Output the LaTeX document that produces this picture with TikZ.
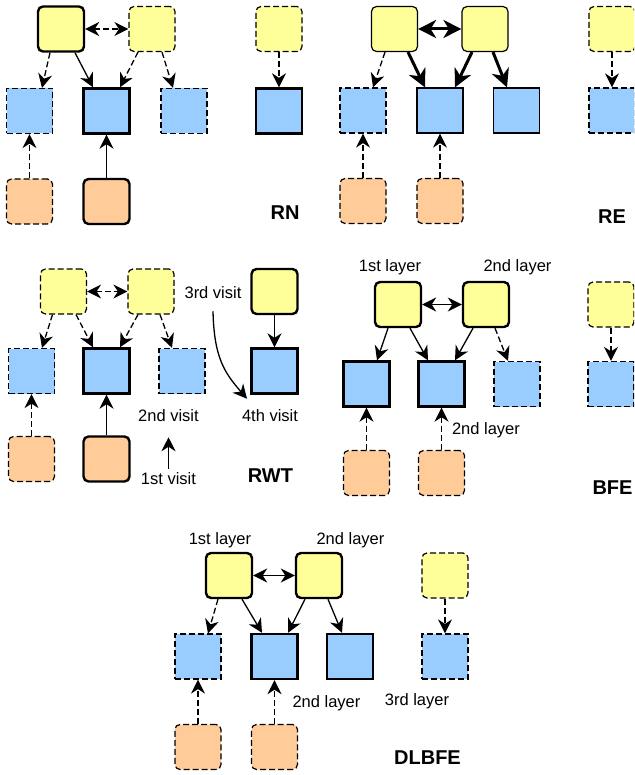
\documentclass[tikz,border=0pt]{standalone}
\usepackage{fontspec}
\setmainfont{Liberation Sans}
\usetikzlibrary{arrows.meta}

\definecolor{cyel}{HTML}{FFFF99}
\definecolor{cblu}{HTML}{99CCFF}
\definecolor{corg}{HTML}{FFCC99}

\tikzset{
  box/.style={minimum width=46pt, minimum height=45pt, inner sep=0pt, draw=black},
  yel/.style={box, rounded corners=5pt, fill=cyel},
  org/.style={box, rounded corners=5pt, fill=corg},
  blu/.style={box, fill=cblu},
  hi/.style={line width=2.4pt},
  mid/.style={line width=1.2pt},
  lo/.style={line width=1.2pt, dash pattern=on 6pt off 3pt},
  arr/.style={-{Stealth[length=14pt, width=14pt, inset=4.5pt]}, line width=1.3pt},
  darr/.style={arr, dash pattern=on 6pt off 3pt},
  dbl/.style={{Stealth[length=14pt, width=14pt, inset=4.5pt]}-{Stealth[length=14pt, width=14pt, inset=4.5pt]}, line width=1.3pt},
  tarr/.style={-{Stealth[length=18pt, width=18pt, inset=5.5pt]}, line width=3pt},
  tdbl/.style={{Stealth[length=18pt, width=18pt, inset=5.5pt]}-{Stealth[length=18pt, width=18pt, inset=5.5pt]}, line width=3pt},
  lbl/.style={font=\fontsize{16.5}{18}\selectfont, inner sep=0pt},
  ttl/.style={font=\fontsize{20}{22}\selectfont\bfseries, inner sep=0pt}
}

\begin{document}
\begin{tikzpicture}[x=1pt, y=-1pt]
\useasboundingbox (0,0) rectangle (634,775);
\clip (0,0) rectangle (634,775);

% ---------------- RN ----------------
\node[yel, hi] (rnA) at (61,29) {};
\node[yel, lo] (rnB) at (152,29) {};
\node[blu, lo] (rnb1) at (29.5,111) {};
\node[blu, hi] (rnb2) at (106.5,111) {};
\node[blu, lo] (rnb3) at (184,111) {};
\node[org, lo] (rno1) at (29.5,201.5) {};
\node[org, hi] (rno2) at (106.5,201.5) {};
\node[yel, lo] (rnY) at (279,29) {};
\node[blu, hi] (rnL) at (279,111) {};
\node[ttl] (rnT) at (285,213) {RN};
\draw[dbl, dash pattern=on 6pt off 3pt] (rnA.east) -- (rnB.west);
\draw[darr] ([xshift=-11pt]rnA.south) -- ([xshift=12.5pt]rnb1.north);
\draw[arr] ([xshift=14pt]rnA.south) -- ([xshift=-13.5pt]rnb2.north);
\draw[darr] ([xshift=-14pt]rnB.south) -- ([xshift=13.5pt]rnb2.north);
\draw[darr] ([xshift=10pt]rnB.south) -- ([xshift=-11pt]rnb3.north);
\draw[darr] (rno1.north) -- (rnb1.south);
\draw[arr] (rno2.north) -- (rnb2.south);
\draw[darr] (rnY.south) -- (rnL.north);

% ---------------- RE ----------------
\node[yel, mid] (reA) at (394.5,29) {};
\node[yel, mid] (reB) at (485,29) {};
\node[blu, lo] (reb1) at (363,110.5) {};
\node[blu, mid] (reb2) at (440,110.5) {};
\node[blu, mid] (reb3) at (516.5,110.5) {};
\node[org, lo] (reo1) at (363,201) {};
\node[org, lo] (reo2) at (440,201) {};
\node[yel, lo] (reY) at (612,29) {};
\node[blu, lo] (reL) at (612,110.5) {};
\node[ttl] (reT) at (612,217) {RE};
\draw[tdbl] (reA.east) -- (reB.west);
\draw[darr] ([xshift=-9.5pt]reA.south) -- ([xshift=10pt]reb1.north);
\draw[tarr] ([xshift=13.5pt]reA.south) -- ([xshift=-15pt]reb2.north);
\draw[tarr] ([xshift=-13pt]reB.south) -- ([xshift=15pt]reb2.north);
\draw[tarr] ([xshift=8pt]reB.south) -- ([xshift=-9.5pt]reb3.north);
\draw[darr] (reo1.north) -- (reb1.south);
\draw[darr] (reo2.north) -- (reb2.south);
\draw[darr] (reY.south) -- (reL.north);

% ---------------- RWT ----------------
\node[yel, lo] (rwA) at (63.5,291.5) {};
\node[yel, lo] (rwB) at (151,291.5) {};
\node[blu, lo] (rwb1) at (31.5,371) {};
\node[blu, hi] (rwb2) at (106.5,371) {};
\node[blu, lo] (rwb3) at (182,371) {};
\node[org, lo] (rwo1) at (31.5,459) {};
\node[org, hi] (rwo2) at (106.5,459) {};
\node[yel, hi] (rwY) at (274.5,291.5) {};
\node[blu, hi] (rwL) at (274.5,371) {};
\node[ttl] (rwT) at (270.5,476) {RWT};
\node[lbl] (v1) at (168.5,479) {1st visit};
\node[lbl] (v2) at (168.5,416) {2nd visit};
\node[lbl] (v3) at (213,293) {3rd visit};
\node[lbl] (v4) at (270,416) {4th visit};
\draw[dbl, dash pattern=on 6pt off 3pt] (rwA.east) -- (rwB.west);
\draw[darr] ([xshift=-11pt]rwA.south) -- ([xshift=10.5pt]rwb1.north);
\draw[darr] ([xshift=12.5pt]rwA.south) -- ([xshift=-13.5pt]rwb2.north);
\draw[darr] ([xshift=-13pt]rwB.south) -- ([xshift=13.5pt]rwb2.north);
\draw[darr] ([xshift=9pt]rwB.south) -- ([xshift=-10pt]rwb3.north);
\draw[darr] (rwo1.north) -- (rwb1.south);
\draw[arr] (rwo2.north) -- (rwb2.south);
\draw[arr] (rwY.south) -- (rwL.north);
% visiting order
\draw[arr] ([yshift=4pt]v1.north) -- ([yshift=-15pt]v2.south);
\draw[arr] ([yshift=-12pt]v3.south) .. controls ([xshift=1pt,yshift=-59pt]v3.south) and ([xshift=12pt,yshift=-74pt]v3.south) .. ([xshift=-23pt,yshift=11pt]v4.north);

% ---------------- BFE ----------------
\node[lbl] (bfl1) at (390,267) {1st layer};
\node[lbl] (bfl2) at (517.5,267) {2nd layer};
\node[yel, hi] (bfA) at (398,304.5) {};
\node[yel, hi] (bfB) at (486,304.5) {};
\node[blu, hi] (bfb1) at (366.5,384) {};
\node[blu, hi] (bfb2) at (441.5,384) {};
\node[blu, lo] (bfb3) at (517,384) {};
\node[org, lo] (bfo1) at (366.5,473) {};
\node[org, lo] (bfo2) at (441.5,473) {};
\node[yel, lo] (bfY) at (611,304.5) {};
\node[blu, lo] (bfL) at (611,384) {};
\node[lbl] (bfl3) at (486,430) {2nd layer};
\node[ttl] (bfT) at (612.5,488) {BFE};
\draw[dbl] (bfA.east) -- (bfB.west);
\draw[arr] ([xshift=-10pt]bfA.south) -- ([xshift=10.5pt]bfb1.north);
\draw[arr] ([xshift=12pt]bfA.south) -- ([xshift=-13.5pt]bfb2.north);
\draw[arr] ([xshift=-13pt]bfB.south) -- ([xshift=13.5pt]bfb2.north);
\draw[darr] ([xshift=9pt]bfB.south) -- ([xshift=-9pt]bfb3.north);
\draw[darr] (bfo1.north) -- (bfb1.south);
\draw[darr] (bfo2.north) -- (bfb2.south);
\draw[darr] (bfY.south) -- (bfL.north);

% ---------------- DLBFE ----------------
\node[lbl] (dll1) at (220,540) {1st layer};
\node[lbl] (dll2) at (350.5,540) {2nd layer};
\node[yel, hi] (dlA) at (229,575.5) {};
\node[yel, hi] (dlB) at (319,575.5) {};
\node[blu, lo] (dlb1) at (198,656.5) {};
\node[blu, hi] (dlb2) at (274.5,656.5) {};
\node[blu, hi] (dlb3) at (350,656.5) {};
\node[org, lo] (dlo1) at (198,747) {};
\node[org, lo] (dlo2) at (274.5,747) {};
\node[yel, lo] (dlY) at (445,575.5) {};
\node[blu, lo] (dlL) at (445,656.5) {};
\node[lbl] (dll3) at (326.5,703) {2nd layer};
\node[lbl] (dll4) at (417,701) {3rd layer};
\node[ttl] (dlT) at (427.5,758) {DLBFE};
\draw[dbl] (dlA.east) -- (dlB.west);
\draw[darr] ([xshift=-11pt]dlA.south) -- ([xshift=10pt]dlb1.north);
\draw[arr] ([xshift=13pt]dlA.south) -- ([xshift=-12.5pt]dlb2.north);
\draw[arr] ([xshift=-14pt]dlB.south) -- ([xshift=13.5pt]dlb2.north);
\draw[arr] ([xshift=9pt]dlB.south) -- ([xshift=-8pt]dlb3.north);
\draw[darr] (dlo1.north) -- (dlb1.south);
\draw[darr] (dlo2.north) -- (dlb2.south);
\draw[darr] (dlY.south) -- (dlL.north);
\end{tikzpicture}
\end{document}
